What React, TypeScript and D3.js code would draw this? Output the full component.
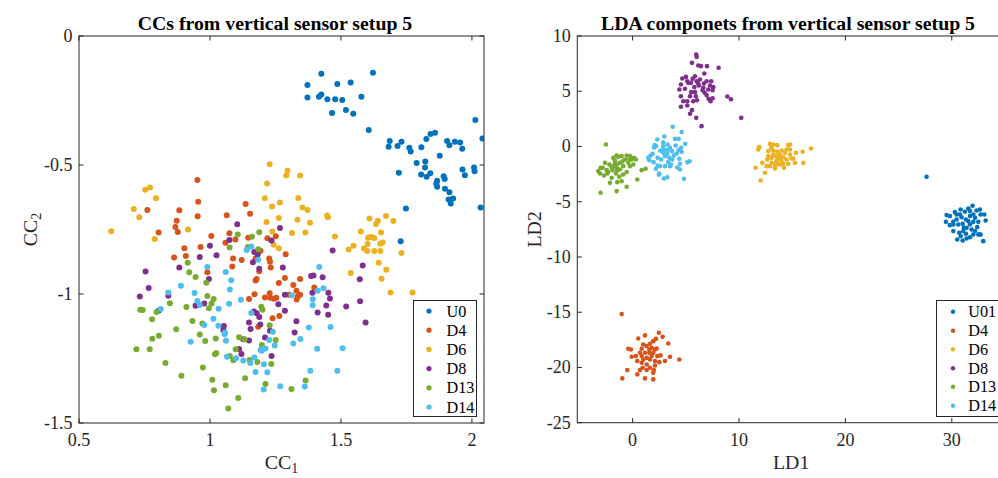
import React from "react";
import * as d3 from "d3";

type Pt = [number, number];

const FONT = "'Liberation Serif','Times New Roman',Times,serif";
const AXIS_COLOR = "#262626";

const seriesColors = ["#0072BD", "#D95319", "#EDB120", "#7E2F8E", "#77AC30", "#4DBEEE"];
const ccSeriesNames = ["U0", "D4", "D6", "D8", "D13", "D14"];
const ldaSeriesNames = ["U01", "D4", "D6", "D8", "D13", "D14"];

const ccXTicks = [0.5, 1, 1.5, 2];
const ccXTickLabels = ["0.5", "1", "1.5", "2"];
const ccYTicks = [0, -0.5, -1, -1.5];
const ccYTickLabels = ["0", "-0.5", "-1", "-1.5"];
const ldaXTicks = [0, 10, 20, 30];
const ldaXTickLabels = ["0", "10", "20", "30"];
const ldaYTicks = [10, 5, 0, -5, -10, -15, -20, -25];
const ldaYTickLabels = ["10", "5", "0", "-5", "-10", "-15", "-20", "-25"];

// ---------- CC scatter (left) ----------
const ccU0: Pt[] = [
  [1.372,-0.190],[1.372,-0.238],[1.425,-0.146],[1.416,-0.235],[1.425,-0.227],[1.448,-0.245],[1.478,-0.245],[1.486,-0.186],[1.505,-0.248],[1.537,-0.180],[1.519,-0.287],[1.466,-0.298],[1.547,-0.301],[1.578,-0.235],[1.622,-0.142],[1.606,-0.364],[2.013,-0.326],
  [1.686,-0.407],[1.682,-0.429],[1.716,-0.426],[1.731,-0.410],[1.761,-0.433],[1.766,-0.448],[1.807,-0.431],[1.826,-0.399],[1.842,-0.380],[1.859,-0.375],[1.789,-0.492],[1.822,-0.486],[1.821,-0.510],[1.806,-0.537],[1.827,-0.546],[1.841,-0.532],[1.721,-0.530],[1.877,-0.464],[1.905,-0.407],[1.914,-0.423],[1.935,-0.410],[1.955,-0.413],[1.963,-0.437],[2.040,-0.397],[1.964,-0.517],[1.973,-0.540],[2.008,-0.510],[2.010,-0.524],[1.892,-0.544],[1.896,-0.554],[1.867,-0.561],[1.864,-0.573],[1.867,-0.584],[1.897,-0.592],[1.914,-0.606],[1.928,-0.630],[1.911,-0.634],[1.919,-0.649],[1.748,-0.669],[2.033,-0.665],[1.728,-0.796],
];
const ccD4: Pt[] = [
  [0.952,-0.558],[0.955,-0.642],[0.953,-0.699],[0.761,-0.674],[0.883,-0.675],[0.873,-0.716],[0.868,-0.740],[0.877,-0.760],[0.804,-0.762],[1.136,-0.651],[1.153,-0.689],[1.064,-0.695],[1.005,-0.775],[1.074,-0.765],[1.097,-0.789],[1.146,-0.782],[0.902,-0.823],[0.964,-0.818],[0.863,-0.859],[0.908,-0.853],[1.059,-0.801],[1.088,-0.862],[1.121,-0.868],[1.085,-0.893],[1.219,-0.784],[1.251,-0.776],[1.226,-0.862],[1.229,-0.875],[1.232,-0.897],[1.174,-0.862],[1.193,-0.832],[1.289,-0.846],
  [0.990,-0.916],[1.188,-0.912],[1.174,-0.948],[1.178,-0.942],[1.263,-0.957],[1.286,-0.938],[1.149,-1.019],[1.170,-1.001],[1.210,-1.014],[1.228,-0.997],[1.230,-1.015],[1.244,-1.018],[1.253,-1.015],[1.265,-1.085],[1.239,-1.094],[1.184,-1.127],
  [1.344,-0.942],[1.318,-0.965],[1.330,-0.987],[1.344,-1.003],[1.301,-1.003],[1.335,-1.010],[1.331,-1.021],[1.398,-0.975],
];
const ccD6: Pt[] = [
  [1.228,-0.497],[1.218,-0.572],[0.771,-0.587],[0.753,-0.596],[0.794,-0.629],[1.209,-0.629],[1.267,-0.645],[1.237,-0.661],[0.709,-0.671],[0.730,-0.703],[1.263,-0.705],[1.216,-0.721],[0.623,-0.757],[0.916,-0.750],[1.238,-0.758],[0.789,-0.787],[1.243,-0.809],[1.263,-0.823],
  [1.296,-0.522],[1.291,-0.541],[1.344,-0.541],[1.337,-0.628],[1.353,-0.665],[1.372,-0.674],[1.334,-0.712],[1.382,-0.724],[1.313,-0.764],[1.364,-0.762],[1.447,-0.696],[1.450,-0.703],[1.477,-0.777],[1.609,-0.707],[1.641,-0.716],[1.634,-0.729],[1.672,-0.698],[1.700,-0.717],[1.576,-0.758],[1.653,-0.762],[1.603,-0.782],[1.618,-0.780],[1.627,-0.783],[1.613,-0.779],[1.659,-0.800],[1.650,-0.805],[1.602,-0.806],[1.548,-0.813],[1.529,-0.828],[1.588,-0.824],[1.600,-0.833],[1.627,-0.833],[1.650,-0.833],[1.731,-0.841],[1.644,-0.879],[1.673,-0.906],
  [1.537,-0.919],[1.655,-0.941],[1.689,-0.994],[1.773,-0.994],
];
const ccD8: Pt[] = [
  [1.104,-0.730],[1.074,-0.791],[1.267,-0.744],[1.000,-0.813],[0.961,-0.857],[1.025,-0.850],[0.883,-0.897],[1.169,-0.837],[1.182,-0.847],[1.164,-0.877],[1.235,-0.793],[1.188,-0.902],
  [1.468,-0.831],[1.278,-0.897],[1.583,-0.890],
  [0.754,-0.913],[0.996,-0.942],[0.766,-0.977],[0.732,-1.010],[0.841,-1.007],[0.978,-1.037],[0.945,-1.046],[0.805,-1.064],[1.168,-1.068],[1.178,-1.075],[1.188,-1.089],[1.149,-1.110],[1.192,-1.118],[1.155,-1.136],[1.229,-1.142],[1.053,-1.124],[1.051,-1.140],[1.210,-1.169],[1.127,-1.175],[1.149,-1.180],[1.111,-1.213],[1.120,-1.233],[1.235,-1.240],[1.261,-1.040],
  [1.386,-0.930],[1.395,-0.928],[1.430,-0.935],[1.572,-0.943],[1.286,-1.003],[1.391,-0.995],[1.452,-0.995],[1.458,-1.017],[1.444,-1.045],[1.411,-1.072],[1.451,-1.080],[1.286,-1.065],[1.520,-1.048],[1.573,-1.028],[1.330,-1.106],[1.323,-1.149],[1.594,-1.110],
];
const ccD13: Pt[] = [
  [1.106,-0.769],[1.160,-0.778],[1.188,-0.761],[1.075,-0.820],[1.145,-0.818],[1.184,-0.827],[0.915,-0.879],
  [0.921,-0.916],[0.945,-0.934],[0.986,-0.956],[0.990,-1.008],[1.014,-1.019],[1.006,-1.037],[0.996,-1.055],[0.847,-1.036],[0.910,-1.050],[0.734,-1.061],[0.743,-1.062],[0.796,-1.070],[0.779,-1.098],[0.933,-1.105],[0.971,-1.114],[0.871,-1.137],[0.961,-1.157],[0.982,-1.182],[1.022,-1.172],[0.805,-1.162],[0.780,-1.173],[0.719,-1.214],[0.770,-1.214],[0.830,-1.267],[0.891,-1.317],[0.973,-1.285],[1.098,-1.214],[1.111,-1.168],[1.132,-1.175],[1.019,-1.234],[1.024,-1.229],[1.076,-1.240],[1.089,-1.257],[1.151,-1.256],[1.181,-1.264],[1.196,-1.049],[1.200,-1.061],[1.198,-1.198],[1.228,-1.121],[1.251,-1.178],[1.234,-1.271],[1.212,-1.349],[1.134,-1.327],[1.009,-1.332],[1.015,-1.373],[1.060,-1.354],[1.108,-1.403],[1.070,-1.444],
  [1.365,-1.335],[1.311,-1.368],
];
const ccD14: Pt[] = [
  [1.140,-0.829],[1.158,-0.816],[1.184,-0.867],[0.990,-0.895],[1.417,-0.895],
  [1.060,-0.915],[1.081,-0.947],[0.889,-0.968],[0.841,-0.994],[0.941,-0.996],[1.076,-0.983],[0.952,-1.027],[0.961,-1.043],[1.073,-1.038],[1.118,-1.022],[1.033,-1.057],[0.812,-1.058],[1.013,-1.096],[0.978,-1.120],[1.032,-1.123],[1.057,-1.149],[1.056,-1.156],[1.061,-1.181],[0.926,-1.185],[1.158,-1.074],[1.240,-1.146],[1.226,-1.178],[1.247,-1.200],[1.193,-1.217],[1.202,-1.213],[1.212,-1.211],[1.197,-1.220],[1.065,-1.243],[1.099,-1.249],[1.127,-1.258],[1.154,-1.267],[1.169,-1.246],[1.206,-1.272],[1.174,-1.302],[1.219,-1.303],[1.205,-1.370],[1.268,-1.358],
  [1.411,-0.987],[1.433,-0.978],[1.312,-1.005],[1.392,-1.020],[1.392,-1.044],[1.377,-1.130],[1.460,-1.128],[1.345,-1.174],[1.318,-1.192],[1.409,-1.212],[1.506,-1.210],[1.383,-1.297],[1.486,-1.297],[1.362,-1.359],
];

// ---------- LDA scatter (right) ----------
const ldaU01: Pt[] = [
  [27.63,-2.75],
  [29.51,-6.21],[29.45,-6.82],[29.82,-6.30],[30.29,-5.94],[30.83,-5.70],[31.23,-5.91],[31.55,-5.61],[31.95,-5.37],[32.33,-5.79],[32.64,-5.70],[32.71,-6.15],[33.05,-6.15],[33.18,-6.70],[32.49,-6.82],[32.18,-6.46],[31.71,-6.30],[31.33,-6.61],[30.92,-6.40],[30.45,-6.61],[30.14,-6.82],[29.82,-7.12],[30.14,-7.66],[30.70,-7.81],[31.08,-7.66],[31.39,-7.36],[31.71,-7.06],[32.02,-6.82],[32.39,-7.30],[32.18,-7.66],[32.58,-7.96],[32.02,-7.96],[31.71,-8.21],[31.39,-8.33],[31.02,-8.51],[30.51,-8.42],[30.14,-7.06],[30.61,-7.06],[31.02,-7.00],[31.55,-6.76],[31.86,-7.51],[32.71,-7.96],[32.96,-8.57],[31.33,-7.90],[32.02,-6.15],[30.77,-6.15],[30.45,-6.15],[31.71,-5.85],[31.14,-7.36],[30.83,-8.11],[32.49,-7.96],
];
const ldaD4: Pt[] = [
  [-1.03,-15.17],
  [1.16,-17.10],[0.53,-17.38],[2.47,-16.86],[2.82,-17.23],[3.35,-17.83],[2.19,-17.41],[1.94,-17.62],[1.63,-17.86],[1.00,-17.92],[1.32,-18.07],[1.79,-18.22],[2.10,-18.37],[2.26,-18.28],[1.57,-18.37],[0.85,-18.31],[-0.41,-18.31],[-0.16,-18.37],[0.69,-18.67],[1.16,-18.67],[1.57,-18.67],[1.94,-18.67],[2.32,-18.97],[2.63,-18.91],[3.51,-19.03],[4.39,-19.28],[3.04,-19.42],[2.51,-19.52],[2.10,-19.42],[1.63,-19.28],[1.32,-19.13],[0.85,-18.97],[0.31,-18.97],[-0.09,-19.03],[0.44,-19.42],[0.85,-19.58],[1.32,-19.73],[1.63,-20.03],[2.10,-19.82],[2.00,-20.24],[1.94,-20.48],[1.32,-20.24],[0.94,-20.03],[0.69,-20.24],[0.44,-20.63],[1.16,-20.99],[1.94,-21.08],[-0.50,-20.24],[-0.97,-20.99],[1.79,-18.97],[1.00,-19.28],
];
const ldaD6: Pt[] = [
  [11.90,-0.06],[11.81,-0.27],[12.91,0.24],[13.22,0.18],[13.60,0.12],[14.63,0.12],[14.79,0.18],[12.75,-0.42],[13.22,-0.36],[13.60,-0.48],[14.00,-0.36],[14.47,-0.27],[15.35,-0.57],[15.98,-0.48],[16.76,-0.18],[12.66,-1.18],[13.06,-1.03],[13.47,-0.87],[13.85,-1.09],[14.16,-0.97],[14.47,-1.18],[14.94,-1.09],[13.06,-1.48],[13.53,-1.27],[14.00,-1.33],[14.16,-1.57],[14.63,-1.57],[15.26,-1.48],[16.04,-1.48],[12.59,-1.78],[12.91,-1.78],[13.38,-1.87],[13.38,-1.99],[14.22,-1.93],[11.56,-1.93],[12.44,-2.38],[12.03,-3.08],[13.69,-1.03],[13.22,-0.72],[13.85,-0.72],[12.75,-0.87],[14.79,-0.72],[15.10,-1.09],[14.31,-0.57],[13.60,-1.57],[12.19,-1.48],[13.85,-1.63],[14.79,-0.27],[13.03,-0.12],[13.38,-1.57],
];
const ldaD8: Pt[] = [
  [5.98,8.33],[6.02,8.11],[5.58,7.57],[6.17,7.33],[6.42,7.27],[6.99,7.27],[8.08,7.12],[6.74,6.61],[5.01,6.30],[4.67,6.15],[5.14,5.91],[5.64,6.12],[5.86,6.36],[6.02,5.91],[6.33,6.06],[5.48,5.76],[5.23,5.76],[6.17,5.67],[6.70,5.70],[6.95,5.91],[7.39,5.91],[7.27,5.52],[7.58,5.37],[7.52,5.10],[7.11,5.16],[6.64,5.31],[4.54,5.61],[4.39,5.16],[4.92,5.22],[5.80,5.37],[6.23,5.52],[5.86,4.92],[5.95,4.55],[5.51,4.92],[5.70,4.10],[5.14,4.10],[6.05,4.19],[4.54,4.55],[4.76,4.10],[4.54,3.59],[5.14,3.71],[5.58,3.29],[5.39,2.96],[5.98,2.59],[6.48,1.84],[7.14,4.31],[7.52,4.37],[7.33,4.10],[6.95,4.65],[6.77,4.86],[8.90,4.52],[9.24,4.28],[10.21,2.59],[6.58,5.10],[5.39,4.55],
];
const ldaD13: Pt[] = [
  [-2.51,0.18],[-1.50,-0.81],[-1.82,-1.03],[-1.35,-0.94],[-0.56,-0.81],[-0.25,-0.87],[0.13,-1.03],[0.31,-1.18],[-0.09,-1.18],[-0.94,-1.33],[-1.19,-1.48],[-1.50,-1.63],[-1.82,-1.78],[-2.19,-1.63],[-2.60,-1.48],[-2.82,-1.93],[-3.23,-2.23],[-3.07,-2.44],[-2.69,-2.62],[-2.29,-2.32],[-1.88,-2.14],[-1.50,-1.93],[-1.19,-2.08],[-1.57,-2.44],[-1.97,-2.84],[-2.13,-3.29],[-1.44,-3.23],[-1.03,-3.14],[-1.50,-4.04],[-0.56,-3.65],[-3.01,-4.19],[0.44,-2.99],[0.85,-2.14],[1.22,-2.02],[-0.56,-2.32],[-0.25,-1.78],[0.06,-1.63],[-0.88,-1.78],[-1.25,-2.75],[-2.44,-2.14],[-0.31,-1.18],[-1.03,-0.87],[-1.66,-1.24],[-1.66,-1.48],[-1.97,-1.93],[-0.72,-1.18],[-0.41,-1.48],[-2.38,-2.44],[-0.88,-2.53],[-1.44,-2.14],[-3.01,-1.93],
];
const ldaD14: Pt[] = [
  [3.76,1.78],[4.61,1.30],[4.32,0.69],[3.98,0.69],[2.98,0.90],[2.32,0.63],[2.88,0.39],[3.29,0.18],[2.88,0.03],[2.07,0.12],[2.01,-0.09],[2.19,0.03],[3.51,-0.12],[4.04,0.09],[4.95,0.24],[4.57,-0.12],[4.32,-0.33],[3.26,-0.33],[2.91,-0.27],[2.60,-0.39],[1.88,-0.66],[1.69,-0.81],[1.47,-1.03],[1.57,-1.24],[1.97,-1.42],[2.35,-1.03],[2.69,-1.18],[3.04,-0.87],[3.45,-1.03],[3.88,-0.81],[4.14,-0.63],[4.61,-0.48],[4.39,-1.12],[3.73,-1.18],[3.35,-1.42],[3.04,-1.78],[2.57,-1.78],[2.35,-1.72],[2.19,-2.02],[2.51,-2.44],[2.47,-2.56],[3.26,-2.78],[2.94,-2.90],[4.20,-1.90],[4.45,-1.57],[5.14,-1.42],[5.36,-1.33],[4.82,-2.93],[3.51,-1.78],[4.45,-2.08],[2.88,-0.57],[3.70,-0.42],[3.26,-0.66],[3.60,-1.63],
];

const ccSeries = [ccU0, ccD4, ccD6, ccD8, ccD13, ccD14];
const ldaSeries = [ldaU01, ldaD4, ldaD6, ldaD8, ldaD13, ldaD14];

interface PanelCfg {
  id: string;
  left: number; right: number; top: number; bottom: number;
  xDomain: [number, number]; yDomain: [number, number];
  xTicks: number[]; xTickLabels: string[];
  yTicks: number[]; yTickLabels: string[];
  title: string; titleX: number;
  xLabel: string; xSub: string; yLabel: string; ySub: string;
  yLabelX: number;
  series: Pt[][]; names: string[];
  r: number; legendR: number;
  legend: { x: number; y: number; w: number; h: number; markerX: number; textX: number; rowY: number[] };
}

function Panel({ c }: { c: PanelCfg }) {
  const x = d3.scaleLinear().domain(c.xDomain).range([c.left, c.right]);
  const y = d3.scaleLinear().domain(c.yDomain).range([c.bottom, c.top]);
  const tl = 4.5;
  const cx = (c.left + c.right) / 2;
  const cy = (c.top + c.bottom) / 2;
  return (
    <g fontFamily={FONT}>
      <defs>
        <clipPath id={`clip-${c.id}`}>
          <rect x={c.left} y={c.top} width={c.right - c.left} height={c.bottom - c.top} />
        </clipPath>
      </defs>
      <g clipPath={`url(#clip-${c.id})`}>
        {c.series.map((s, i) => (
          <g key={i} fill={seriesColors[i]}>
            {s.map((p, j) => (
              <circle key={j} cx={x(p[0])} cy={y(p[1])} r={c.r} />
            ))}
          </g>
        ))}
      </g>
      <rect x={c.left} y={c.top} width={c.right - c.left} height={c.bottom - c.top}
        fill="none" stroke={AXIS_COLOR} strokeWidth={1} />
      {c.xTicks.map((t, i) => (
        <g key={`xt${i}`}>
          <line x1={x(t)} x2={x(t)} y1={c.bottom} y2={c.bottom - tl} stroke={AXIS_COLOR} />
          <line x1={x(t)} x2={x(t)} y1={c.top} y2={c.top + tl} stroke={AXIS_COLOR} />
          <text x={x(t)} y={c.bottom + 23} textAnchor="middle" fontSize={18} fill={AXIS_COLOR}>
            {c.xTickLabels[i]}
          </text>
        </g>
      ))}
      {c.yTicks.map((t, i) => (
        <g key={`yt${i}`}>
          <line x1={c.left} x2={c.left + tl} y1={y(t)} y2={y(t)} stroke={AXIS_COLOR} />
          <line x1={c.right} x2={c.right - tl} y1={y(t)} y2={y(t)} stroke={AXIS_COLOR} />
          <text x={c.left - 6.5} y={y(t) + 6} textAnchor="end" fontSize={18} fill={AXIS_COLOR}>
            {c.yTickLabels[i]}
          </text>
        </g>
      ))}
      <text x={c.titleX} y={30} textAnchor="middle" fontSize={19.8} fontWeight="bold" fill="#000">
        {c.title}
      </text>
      <text x={cx} y={469} textAnchor="middle" fontSize={19.8} fill={AXIS_COLOR}>
        {c.xLabel}
        {c.xSub && <tspan fontSize={14} dy={4}>{c.xSub}</tspan>}
      </text>
      <text transform={`translate(${c.yLabelX},${cy}) rotate(-90)`} textAnchor="middle" fontSize={19.8} fill={AXIS_COLOR}>
        {c.yLabel}
        {c.ySub && <tspan fontSize={14} dy={4}>{c.ySub}</tspan>}
      </text>
      <rect x={c.legend.x} y={c.legend.y} width={c.legend.w} height={c.legend.h}
        fill="#fff" stroke={AXIS_COLOR} strokeWidth={1} />
      {c.names.map((n, i) => (
        <g key={`lg${i}`}>
          <circle cx={c.legend.markerX} cy={c.legend.rowY[i]} r={c.legendR} fill={seriesColors[i]} />
          <text x={c.legend.textX} y={c.legend.rowY[i] + 5.5} fontSize={16.2} fill="#000">{n}</text>
        </g>
      ))}
    </g>
  );
}

const ccCfg: PanelCfg = {
  id: "cc",
  left: 79, right: 484, top: 36, bottom: 423,
  xDomain: [0.5, 2.046], yDomain: [-1.5, 0],
  xTicks: ccXTicks, xTickLabels: ccXTickLabels,
  yTicks: ccYTicks, yTickLabels: ccYTickLabels,
  title: "CCs from vertical sensor setup 5", titleX: 275,
  xLabel: "CC", xSub: "1", yLabel: "CC", ySub: "2", yLabelX: 37,
  series: ccSeries, names: ccSeriesNames,
  r: 3, legendR: 2.6,
  legend: { x: 413.5, y: 300.5, w: 63, h: 116, markerX: 429, textX: 446.5, rowY: [311, 330.2, 349.4, 368.6, 387.8, 407] },
};

const ldaCfg: PanelCfg = {
  id: "lda",
  left: 577.3, right: 1005, top: 36, bottom: 422.7,
  xDomain: [-5.2, 35], yDomain: [-25, 10],
  xTicks: ldaXTicks, xTickLabels: ldaXTickLabels,
  yTicks: ldaYTicks, yTickLabels: ldaYTickLabels,
  title: "LDA componets from vertical sensor setup 5", titleX: 788,
  xLabel: "LD1", xSub: "", yLabel: "LD2", ySub: "", yLabelX: 541,
  series: ldaSeries, names: ldaSeriesNames,
  r: 2.3, legendR: 2.2,
  legend: { x: 936.5, y: 300.5, w: 63, h: 116, markerX: 953, textX: 968.3, rowY: [311.7, 330.7, 349.3, 368.3, 386.7, 405.7] },
};

export default function App() {
  return (
    <svg width={998} height={478} viewBox="0 0 998 478"
      style={{ position: "absolute", left: 0, top: 0, background: "#fff", display: "block" }}>
      <rect x={0} y={0} width={998} height={478} fill="#fff" />
      <Panel c={ccCfg} />
      <Panel c={ldaCfg} />
    </svg>
  );
}
